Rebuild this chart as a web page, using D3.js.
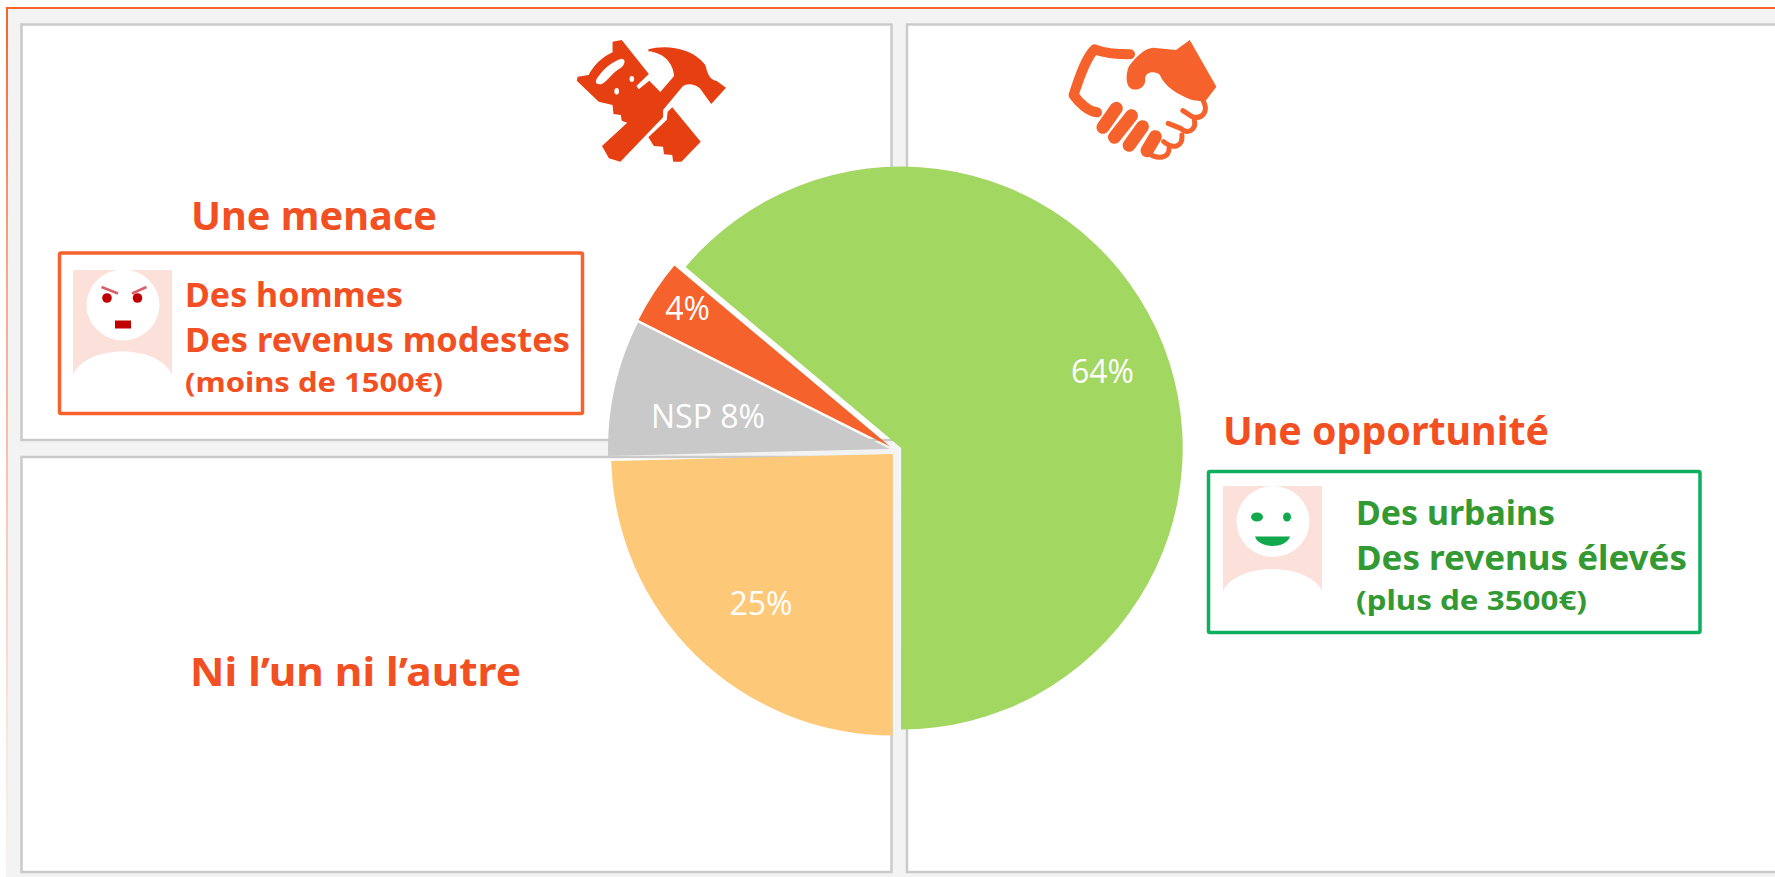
<!DOCTYPE html>
<html><head><meta charset="utf-8">
<script src="https://cdnjs.cloudflare.com/ajax/libs/d3/7.8.5/d3.min.js"></script>
<style>html,body{margin:0;padding:0;background:#fff}svg{display:block}</style></head>
<body><svg id="c" width="1775" height="877"></svg>
<script>
const categories = ["Une opportunité","Ni l’un ni l’autre","NSP","Une menace"];
const seriesValues = [63.9, 24.6, 7.8, 3.7];
const sliceLabels = ["64%","25%","NSP 8%","4%"];
const sliceColors = ["#a2d762","#fdc978","#c9c9c9","#f5622b"];

const W=1775,H=877, R=281.5;
const FONT="'Noto Sans','DejaVu Sans',sans-serif";
const svg=d3.select("#c");
const defs=svg.append("defs");
const g=defs.append("linearGradient").attr("id","fade").attr("x1",0).attr("x2",0).attr("y1",0).attr("y2",1);
g.append("stop").attr("offset",0).attr("stop-color","#f5622b");
g.append("stop").attr("offset",.3).attr("stop-color","#f9a585");
g.append("stop").attr("offset",.8).attr("stop-color","#fde0d6");
g.append("stop").attr("offset",1).attr("stop-color","#f6f3f2");

svg.append("rect").attr("x",7).attr("y",7).attr("width",W-7).attr("height",H-7).attr("fill","#f3f3f3");
svg.append("rect").attr("x",6).attr("y",7).attr("width",W-6).attr("height",2).attr("fill","#f5622b");
svg.append("rect").attr("x",6).attr("y",7).attr("width",2).attr("height",H-7).attr("fill","url(#fade)");

const panels=[[21.5,24.5,870,415.5],[21.5,457,870,415],[907,24.5,900,847.5]];
svg.selectAll("rect.panel").data(panels).join("rect").attr("class","panel")
 .attr("x",d=>d[0]).attr("y",d=>d[1]).attr("width",d=>d[2]).attr("height",d=>d[3])
 .attr("fill","#fff").attr("stroke","#cacaca").attr("stroke-width",2.5);

// Pie
const pie=d3.pie().sort(null).startAngle(-50*Math.PI/180).endAngle(310*Math.PI/180);
const arc=d3.arc().innerRadius(0).outerRadius(R);
const sliceOrigins=[[901.2,448],[892.7,454],[889.5,449],[890,446.5]];
const labelAnchors=[[1102.5,370],[761,602],[708,415],[687.5,307]];
const arcs=pie(seriesValues);
svg.append("g").selectAll("path").data(arcs).join("path")
 .attr("transform",(d,i)=>`translate(${sliceOrigins[i]})`)
 .attr("d",arc).attr("fill",(d,i)=>sliceColors[i]);
svg.append("g").selectAll("text").data(sliceLabels).join("text")
 .attr("x",(d,i)=>labelAnchors[i][0]).attr("y",(d,i)=>labelAnchors[i][1])
 .attr("text-anchor","middle").attr("dominant-baseline","central")
 .attr("font-family","'Open Sans',sans-serif").attr("font-size",32).attr("fill","#fff").text(d=>d);

// Titles
const TXT="#f25022";
function t(x,y,s,size,fill,tl){const e=svg.append("text").attr("x",x).attr("y",y).attr("font-family",FONT).attr("font-weight",700)
 .attr("font-size",size).attr("fill",fill).text(s);
 if(tl)e.attr("textLength",tl).attr("lengthAdjust","spacingAndGlyphs");return e;}
t(191,230,categories[3],39,TXT,246);
t(1223,445,categories[0],39,TXT,326);
t(190,686,categories[1],39,TXT,331);

// Boxes
svg.append("rect").attr("x",59.5).attr("y",253).attr("width",523).attr("height",160.5).attr("rx",1.5).attr("fill","#fff").attr("stroke","#f5622b").attr("stroke-width",3.5);
svg.append("rect").attr("x",1208.5).attr("y",471.5).attr("width",491.5).attr("height",161).attr("rx",1.5).attr("fill","#fff").attr("stroke","#0db060").attr("stroke-width",3.5);

t(185,306.5,"Des hommes",34,TXT,218);
t(185,351.5,"Des revenus modestes",34,TXT,385);
t(185,391.5,"(moins de 1500€)",27,TXT,258);
const GR="#339933";
t(1356,525,"Des urbains",34,GR,199);
t(1356,570,"Des revenus élevés",34,GR,331);
t(1356,610,"(plus de 3500€)",27,GR,231);

// Avatars
function avatar(x,y,w,h,bodyTop,cx,cy){
 svg.append("rect").attr("x",x).attr("y",y).attr("width",w).attr("height",h).attr("fill","#fce0da");
 svg.append("ellipse").attr("cx",cx).attr("cy",cy).attr("rx",36.5).attr("ry",35.5).attr("fill","#fff");
 const b=y+h;
 svg.append("path").attr("fill","#fff").attr("d",`M${x},${b} C${x+6},${bodyTop+9} ${x+26},${bodyTop} ${x+w/2},${bodyTop} C${x+w-26},${bodyTop} ${x+w-6},${bodyTop+9} ${x+w},${b} L${x+w},${b+1} L${x},${b+1} Z`);
}
avatar(73,270,99,105,351.5,123,305);
avatar(1223,486,99,105,569,1273,521.5);
// angry
[[107,298],[137.5,298]].forEach(p=>svg.append("circle").attr("cx",p[0]).attr("cy",p[1]).attr("r",4.8).attr("fill","#c00000"));
[[101.5,287,118,293.5],[146.5,287,132,293.5]].forEach(p=>svg.append("line").attr("x1",p[0]).attr("y1",p[1]).attr("x2",p[2]).attr("y2",p[3]).attr("stroke","#d8606a").attr("stroke-width",2.5));
svg.append("rect").attr("x",115).attr("y",320.5).attr("width",16).attr("height",8).attr("fill","#c00000");
// happy
svg.append("ellipse").attr("cx",1257).attr("cy",517).attr("rx",6).attr("ry",4.5).attr("fill","#12a84c");
svg.append("ellipse").attr("cx",1287).attr("cy",517).attr("rx",4).attr("ry",4.5).attr("fill","#12a84c");
svg.append("path").attr("d","M1255,536.5 L1290,536.5 C1288,543 1280,546 1272.5,546 C1265,546 1257,543 1255,536.5 Z").attr("fill","#12a84c");

// Icons (drawn in the crop's stretched coordinates)
const ic=svg.append("g").attr("transform","translate(540,20) scale(0.4592,0.3333)");
const RED="#e63f12";
ic.append("path").attr("fill",RED).attr("d","M158,65 L178,60 L237,162 L210,198 L215,208 L238,182 L262,216 L292,168 C290,130 270,98 236,94 L236,88 C270,75 330,80 360,135 C365,160 368,178 385,183 L405,203 L373,252 L348,205 C335,190 320,190 310,200 L268,270 L268,292 L175,425 L150,415 L135,378 L190,308 L178,302 L176,285 L160,282 L158,255 L128,245 L80,182 L82,170 L106,165 C115,140 135,110 158,97 Z");
ic.append("path").attr("fill",RED).attr("d","M288,262 L350,365 L308,425 L290,425 L288,405 L270,403 L268,380 L248,378 L236,352 L276,300 L278,275 Z");
ic.append("path").attr("fill","#fff").attr("d","M122,180 C135,150 155,125 178,116 C188,118 185,135 175,145 C160,155 150,180 135,192 C125,195 120,190 122,180 Z");
ic.append("ellipse").attr("cx",200).attr("cy",177).attr("rx",5).attr("ry",9).attr("fill","#fff");
ic.append("ellipse").attr("cx",167).attr("cy",214).attr("rx",5).attr("ry",10).attr("fill","#fff");
const HS="#f5622b";
ic.append("path").attr("fill",HS).attr("d","M1385,90 L1415,60 L1473,200 L1448,245 L1420,240 C1390,225 1360,200 1350,165 C1340,150 1315,155 1318,180 C1318,200 1305,212 1290,208 C1275,200 1275,165 1282,140 C1295,115 1315,85 1335,83 Z");
const stroke=(d,w)=>ic.append("path").attr("d",d).attr("fill","none").attr("stroke",HS).attr("stroke-width",w).attr("stroke-linecap","round").attr("stroke-linejoin","round").attr("vector-effect","non-scaling-stroke");
stroke("M1285,103 C1255,103 1230,100 1208,88 C1190,110 1175,170 1162,225 C1175,250 1195,275 1213,277",10);
["M1226,322 L1255,265","M1251,352 L1288,287","M1283,376 L1312,320","M1322,392 L1340,350"].forEach(d=>stroke(d,13));
stroke("M1445,245 C1455,270 1445,300 1420,290 L1400,272",5);
stroke("M1425,300 C1430,330 1410,345 1395,325 L1368,310",5);
stroke("M1398,345 C1400,380 1380,390 1358,365",5);
stroke("M1370,385 C1370,415 1345,420 1325,400",5);
</script></body></html>
